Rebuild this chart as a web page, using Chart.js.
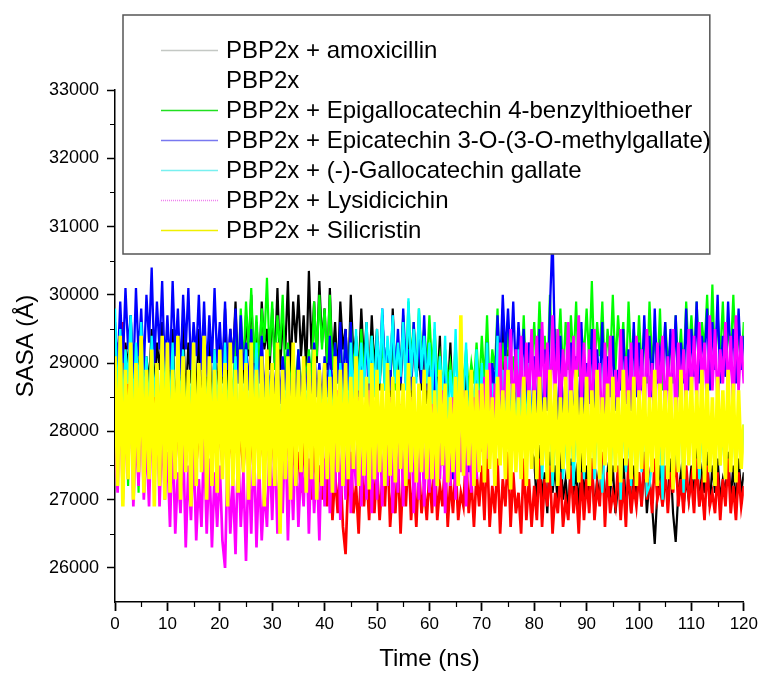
<!DOCTYPE html>
<html>
<head>
<meta charset="utf-8">
<script src="https://cdn.jsdelivr.net/npm/chart.js@4.4.0/dist/chart.umd.min.js"></script>
<style>
  html, body { margin: 0; padding: 0; background: #fff; }
  #wrap { width: 761px; height: 678px; }
</style>
</head>
<body>
<div id="wrap"><canvas id="sasa-chart" width="761" height="678"></canvas></div>
<script>
// SASA of PBP2x complexes, one value every 0.5 ns
const STEP_NS = 0.5;

const amoxicillin = [
  29400, 28700, 29500, 28600, 29300, 28900, 29700, 28500, 29200, 28800, 29600, 28400, 29100, 28700, 29500, 28600, 29300, 28900, 29600, 28500,
  29200, 28600, 29500, 28300, 29000, 28800, 29600, 28400, 29300, 28700, 29100, 28500, 29500, 28400, 28900, 28700, 29400, 28300, 29200, 28600,
  29300, 28700, 29800, 28600, 29500, 29000, 29900, 28800, 29400, 28700, 29700, 29100, 30000, 28900, 29600, 28800, 29900, 29200, 29500, 28900,
  29800, 29000, 30100, 28900, 29600, 29200, 30200, 28800, 29900, 29300, 30000, 29100, 29700, 28900, 30350, 29200, 29900, 29000, 30200, 29300,
  29800, 28900, 30100, 29000, 29600, 28800, 29900, 29200, 29500, 28700, 30000, 29100, 29400, 28800, 29800, 29000, 29600, 28700, 29700, 28900,
  29500, 28600, 29700, 28900, 29300, 28500, 29800, 28800, 29200, 28600, 29600, 28700, 29400, 28500, 29500, 28800, 29100, 28600, 29400, 28400,
  29200, 28300, 29000, 28600, 29400, 28100, 28900, 28500, 29300, 28200, 28800, 28400, 29100, 28000, 29000, 28300, 28700, 28100, 29200, 28200,
  28800, 28000, 29100, 27900, 28600, 28200, 29300, 28100, 29800, 28000, 29200, 27800, 28700, 28300, 29500, 27900, 28400, 27800, 28900, 27700,
  27600, 26900, 27800, 27000, 27400, 26800, 27700, 27100, 27500, 26900, 27800, 27000, 27300, 26800, 27600, 27100, 27400, 26900, 27700, 27000,
  27500, 26900, 27600, 26800, 27300, 27000, 27600, 26900, 27400, 27100, 27500, 26800, 27200, 27000, 27600, 26900, 27300, 26800, 27500, 27000,
  27400, 26900, 27600, 26800, 27300, 26900, 26350, 27100, 27500, 26900, 27300, 27000, 27600, 26800, 26380, 27100, 27400, 26900, 27300, 27000,
  27500, 27000, 27800, 26900, 27400, 27100, 27700, 26900, 27500, 27100, 27600, 27000, 27300, 27100, 27700, 27000, 27500, 26900, 27600, 27100,
  27400
];

const apo = [
  28800, 29300, 28200, 29600, 28000, 28700, 27900, 28600, 27800, 28500, 28000, 28700, 27800, 28400, 27900, 28600, 27700, 28500, 27800, 28400,
  28000, 27600, 28400, 27500, 28200, 27700, 28500, 27500, 28100, 27600, 28300, 27500, 28000, 27700, 28400, 27600, 28100, 27500, 28300, 27600,
  28100, 27500, 28300, 27400, 27900, 27600, 28400, 27500, 28000, 27400, 28200, 27600, 27900, 27400, 28300, 27500, 28000, 27400, 28200, 27500,
  28000, 27400, 28300, 27300, 27900, 27500, 28100, 27200, 27800, 27300, 27700, 27100, 27900, 27200, 27600, 27000, 27800, 27100, 27500, 27000,
  27600, 26900, 27800, 26700, 27400, 26800, 27500, 26600, 26200, 27300, 27700, 26800, 27200, 26500, 27600, 26900, 27400, 26700, 27800, 26800,
  27500, 26700, 27300, 26900, 27800, 26600, 27200, 26800, 27600, 26500, 27400, 26900, 27700, 26700, 27300, 26600, 27500, 26800, 27200, 26700,
  27400, 26800, 27700, 26700, 27200, 26900, 27600, 26600, 27300, 26800, 27500, 26700, 27100, 26900, 27700, 26800, 27300, 26600, 27400, 26900,
  27500, 26700, 27800, 26600, 27200, 26800, 27600, 26500, 27300, 26900, 27700, 26600, 27400, 26800, 27100, 26500, 27600, 26700, 27300, 26600,
  27200, 26700, 27600, 26600, 27300, 26900, 27500, 26500, 27100, 26800, 27400, 26600, 27000, 26700, 27500, 26800, 27200, 26500, 27400, 26700,
  27300, 26800, 27600, 26700, 27200, 26900, 27700, 26600, 27400, 26800, 27100, 26900, 27500, 26700, 27300, 26600, 27600, 26800, 27200, 26900,
  27400, 26900, 27700, 27000, 27300, 26800, 27600, 27000, 27200, 26900, 27500, 26800, 27400, 27100, 27700, 26900, 27300, 26800, 27500, 27000,
  27300, 26800, 27600, 26900, 27200, 26700, 27500, 26900, 27100, 26800, 27400, 26700, 27300, 26900, 27600, 26800, 27200, 26700, 27400, 26900,
  27200
];

const epigallocatechin = [
  29200, 28000, 29500, 27400, 28700, 27200, 28900, 27800, 28500, 27100, 28800, 27500, 28300, 27200, 28900, 27600, 28400, 27100, 28700, 27900,
  28600, 27700, 28900, 27900, 28400, 27600, 28800, 28000, 28500, 27700, 28900, 28100, 28300, 27800, 28700, 27600, 28600, 28000, 28800, 27900,
  28700, 28100, 29000, 28300, 28900, 28500, 29400, 28700, 29800, 28900, 29900, 29200, 30100, 29000, 29700, 28900, 29800, 29300, 30250, 29100,
  29900, 28900, 29700, 29200, 30000, 28800, 29300, 28600, 29100, 28700, 29200, 28600, 29000, 28800, 29200, 28700, 29900, 29100, 30000, 29200,
  29800, 29000, 30000, 28900, 29300, 28700, 29100, 28800, 29400, 28700, 29600, 28900, 29300, 28700, 29500, 28800, 29200, 28700, 29400, 28800,
  29200, 28700, 29400, 28600, 29100, 28800, 29300, 28600, 29200, 28900, 29700, 28800, 29900, 29000, 29600, 28800, 29800, 29100, 29500, 28900,
  29700, 28900, 29500, 28800, 29100, 28600, 29200, 28700, 29000, 28600, 29300, 28500, 29100, 28700, 29200, 28600, 29000, 28700, 29300, 28600,
  29400, 28700, 29700, 28600, 29200, 28900, 29800, 28500, 29300, 28800, 29600, 28700, 29100, 28600, 29500, 28800, 29700, 28600, 29300, 28900,
  29600, 28800, 29900, 29000, 29400, 28700, 30000, 28900, 29500, 29100, 29800, 28800, 29600, 28900, 29700, 29000, 29900, 28800, 29500, 29100,
  29800, 29000, 30200, 28900, 29600, 29100, 29900, 28800, 29500, 29000, 30000, 28900, 29700, 29100, 29600, 28700, 29900, 29000, 29500, 28800,
  29700, 28900, 29500, 28700, 29900, 29000, 29400, 28800, 29800, 28600, 29600, 29000, 29300, 28700, 29700, 28900, 29500, 28800, 29900, 29100,
  29700, 29000, 29900, 28900, 29600, 29200, 30000, 29000, 30150, 28900, 29700, 29100, 29900, 28800, 29600, 29100, 30000, 29000, 29500, 28900,
  29600
];

const epicatechin = [
  29600, 28900, 29900, 29000, 30100, 29200, 29700, 28800, 30100, 29100, 29800, 28900, 30000, 29300, 30400, 29000, 29900, 29200, 30200, 28900,
  29700, 28900, 30200, 29100, 29800, 28800, 30000, 29200, 30100, 28900, 29600, 29100, 30000, 28900, 29900, 28800, 29700, 29000, 30100, 29000,
  29600, 28800, 29900, 28900, 29500, 29000, 29800, 28700, 29700, 28900, 29300, 28600, 29500, 28500, 29200, 28700, 29400, 28500, 29100, 28600,
  29000, 28500, 29300, 28400, 29100, 28600, 29200, 28300, 28900, 28500, 29200, 28400, 29000, 28600, 29100, 28300, 29300, 28500, 29000, 28400,
  29100, 28500, 29400, 28400, 29300, 28700, 29600, 28500, 29500, 28600, 29600, 28400, 29300, 28500, 29000, 28700, 29400, 28300, 29200, 28600,
  29400, 28700, 29800, 28900, 29300, 28600, 29700, 28800, 29500, 28700, 29800, 28900, 29200, 28600, 29600, 28800, 29400, 28700, 29700, 28600,
  28900, 28000, 29200, 27700, 28600, 27500, 28800, 27900, 28400, 27300, 28700, 27800, 29000, 27500, 28500, 27400, 28800, 27700, 28300, 27600,
  28800, 27900, 29300, 27600, 29000, 28600, 29700, 28900, 30000, 29100, 29800, 29000, 29900, 28800, 29600, 28900, 29500, 28200, 29300, 27800,
  29100, 28000, 29500, 27800, 29200, 28300, 29800, 30900, 29000, 27900, 29400, 28100, 28800, 27600, 29300, 27800, 29100, 28000, 29600, 28200,
  29000, 28400, 29500, 28300, 29200, 28600, 29600, 28200, 29100, 28500, 29400, 28300, 28900, 28600, 29500, 28400, 29200, 28300, 29600, 28500,
  29300, 28600, 29700, 28800, 29400, 28500, 29800, 28700, 29200, 28900, 29600, 28600, 29500, 28800, 29700, 28500, 29300, 28700, 29800, 28600,
  29500, 28800, 29900, 28700, 29400, 29000, 29800, 28600, 29600, 28900, 30000, 28700, 29400, 28800, 29900, 29000, 29500, 28700, 29800, 28900,
  29400
];

const gallocatechin = [
  29800, 28400, 29500, 28300, 29200, 28700, 29700, 28200, 29300, 28600, 29600, 28400, 29100, 28300, 29400, 28500, 29000, 28200, 29300, 28600,
  29100, 28300, 29300, 28100, 28900, 28500, 29200, 28000, 28800, 28400, 29300, 28200, 28700, 28000, 29100, 28300, 28900, 28100, 29200, 28400,
  28900, 28100, 29300, 28000, 28700, 28400, 29100, 27900, 28800, 28200, 29200, 28000, 28600, 28300, 29300, 28100, 28900, 28000, 29100, 28400,
  28700, 28100, 28900, 28000, 28600, 28300, 29000, 28000, 28500, 28200, 28800, 27900, 28600, 28300, 28900, 28100, 28500, 28000, 28800, 28200,
  28600, 28000, 28900, 28200, 28700, 28100, 29000, 28300, 28800, 28100, 29300, 28400, 29500, 28600, 29300, 28500, 29600, 28700, 29400, 28500,
  29500, 28700, 29800, 28600, 29400, 28900, 29700, 28700, 29300, 28800, 29600, 28600, 29950, 28800, 29500, 28700, 29800, 28900, 29400, 28700,
  29300, 28400, 29600, 28200, 29100, 28500, 29400, 28000, 28900, 28300, 29500, 28100, 29000, 28400, 29300, 28000, 28800, 28300, 29200, 28100,
  29000, 28100, 29300, 27900, 28700, 28200, 29400, 27800, 28900, 28000, 29100, 27900, 28600, 28100, 29200, 27800, 28800, 28000, 29000, 27900,
  28300, 27500, 28500, 27300, 28100, 27600, 28400, 27200, 28000, 27500, 28500, 27300, 27900, 27600, 28300, 27200, 28200, 27400, 28400, 27300,
  28400, 27500, 28600, 27300, 28200, 27600, 27100, 27800, 28500, 27200, 28100, 27500, 28600, 27000, 28300, 27400, 28000, 27200, 28400, 27300,
  28200, 27400, 28500, 27100, 27200, 27600, 28700, 27300, 28100, 27000, 28400, 27500, 28600, 27200, 28000, 27400, 28500, 27100, 28300, 27600,
  28300, 27500, 28500, 27300, 28100, 27600, 28400, 27400, 28200, 27300, 28500, 27500, 28000, 27400, 28400, 27600, 28200, 27300, 28300, 27500,
  28100
];

const lysidicichin = [
  27800, 27100, 28600, 27000, 28200, 27300, 28900, 26900, 28000, 27200, 28500, 27000, 27900, 26900, 28300, 27100, 28700, 26900, 28100, 27000,
  27700, 26600, 28000, 26500, 27400, 26800, 27900, 26300, 27500, 26700, 27800, 26400, 27300, 26600, 27900, 26500, 27600, 26300, 27400, 26600,
  27500, 26400, 26000, 27700, 26500, 27300, 26200, 27800, 26600, 27400, 26100, 27600, 26500, 27900, 26300, 27500, 26400, 27200, 26600, 27800,
  26700, 27900, 26500, 27600, 26800, 28200, 26400, 27700, 26700, 28000, 26600, 27500, 26900, 28100, 26500, 27800, 26800, 27600, 26400, 28000,
  26900, 28300, 26800, 27900, 27100, 28600, 26700, 28000, 27000, 28400, 26800, 27800, 27200, 28500, 26900, 28100, 27000, 28600, 26800, 28200,
  27000, 28300, 26900, 28000, 27200, 28500, 26800, 27900, 27100, 28400, 26900, 28100, 27300, 28500, 26800, 28000, 27000, 28300, 26900, 28200,
  27100, 28400, 26900, 28000, 27300, 28600, 26800, 28100, 27200, 28500, 27000, 28200, 27400, 28600, 26900, 28300, 27100, 28500, 27300, 28600,
  27700, 28800, 27600, 29000, 27900, 28700, 28000, 29300, 27800, 29100, 28200, 29500, 28100, 29200, 28300, 29400, 28100, 29300, 28400, 29500,
  28300, 29400, 28200, 29600, 28500, 29300, 28100, 29700, 28400, 29500, 28300, 29200, 28600, 29600, 28200, 29400, 28500, 29700, 28300, 29300,
  28400, 29200, 28000, 29500, 28300, 29000, 27800, 29300, 28200, 29400, 28100, 28900, 28300, 29500, 27900, 29100, 28200, 29300, 28000, 29400,
  28300, 29200, 28100, 29500, 28400, 29000, 28000, 29300, 28500, 29400, 28200, 29100, 28400, 29500, 28100, 29300, 28500, 29200, 28300, 29500,
  28500, 29400, 28400, 29600, 28700, 29300, 28300, 29700, 28600, 29500, 28400, 29200, 28700, 29600, 28500, 29400, 28300, 29700, 28600, 29400,
  28700
];

const silicristin = [
  29100, 27200, 29400, 26900, 28900, 27300, 29300, 27000, 29000, 27400, 29400, 27100, 28900, 27300, 29200, 26900, 29000, 27200, 29400, 27000,
  29300, 27100, 28900, 27300, 29400, 27000, 29100, 27400, 28900, 26900, 29300, 27200, 29000, 27400, 29400, 27000, 29100, 27200, 28900, 27100,
  29200, 27300, 29000, 26900, 29300, 27200, 28900, 27100, 29200, 27400, 29000, 27000, 29300, 27200, 28900, 27300, 29100, 26900, 29200, 27200,
  29000, 27200, 29300, 26500, 28900, 27300, 29100, 27000, 29300, 27200, 28900, 27400, 29100, 27100, 29000, 27300, 29200, 27000, 28900, 27200,
  29000, 27300, 28800, 27100, 29100, 27400, 28900, 27200, 29000, 27300, 28800, 27450, 29100, 27200, 28900, 27350, 28800, 27150, 29000, 27300,
  28900, 27400, 28700, 27200, 29000, 27350, 28800, 27250, 28900, 27450, 28700, 27200, 29000, 27400, 28800, 27250, 28700, 27400, 28900, 27300,
  28800, 27300, 28600, 27200, 28900, 27500, 28700, 27250, 28500, 27400, 28800, 27200, 29700, 27350, 28600, 27500, 28900, 27200, 28700, 27400,
  28700, 27250, 28900, 27450, 28500, 27200, 28800, 27500, 28600, 27300, 28900, 27150, 28700, 27400, 28500, 27300, 28800, 27200, 28600, 27450,
  28600, 27300, 28800, 27500, 28500, 27250, 28900, 27400, 28700, 27200, 28500, 27450, 28800, 27300, 28600, 27550, 28900, 27250, 28500, 27400,
  28800, 27200, 28600, 27450, 28900, 27300, 28500, 27500, 28700, 27200, 28800, 27400, 28500, 27250, 28900, 27500, 28600, 27300, 28800, 27200,
  28600, 27450, 28800, 27250, 28500, 27400, 28900, 27200, 28700, 27500, 28600, 27300, 28800, 27150, 28500, 27400, 28900, 27300, 28600, 27500,
  28800, 27300, 28600, 27450, 28900, 27250, 28700, 27400, 28500, 27200, 28800, 27500, 28600, 27300, 28900, 27400, 28700, 27250, 28600, 27450,
  28100
];

const seriesNames = [
  'PBP2x + amoxicillin',
  'PBP2x',
  'PBP2x + Epigallocatechin 4-benzylthioether',
  'PBP2x + Epicatechin 3-O-(3-O-methylgallate)',
  'PBP2x + (-)-Gallocatechin gallate',
  'PBP2x + Lysidicichin',
  'PBP2x + Silicristin'
];
const seriesValues = [amoxicillin, apo, epigallocatechin, epicatechin, gallocatechin, lysidicichin, silicristin];
const lineColors = ['#000000', '#ff0000', '#00ff00', '#0000ff', '#00ffff', '#ff00ff', '#ffff00'];
// yellow is the top trace and hides most of the others, so it gets a thicker stroke
const lineWidths = [2.2, 2.7, 2.2, 2.3, 2.3, 2.7, 3.6];
// the legend swatches in the figure are washed out (and PBP2x has none)
const legendColors = ['#c4c8c4', null, '#20e020', '#7878f0', '#78f0f0', '#f080f0', '#f0f000'];

const xTicks = [0, 10, 20, 30, 40, 50, 60, 70, 80, 90, 100, 110, 120];
const xMinor = [5, 15, 25, 35, 45, 55, 65, 75, 85, 95, 105, 115];
const yTicks = [26000, 27000, 28000, 29000, 30000, 31000, 32000, 33000];
const yMinor = [26500, 27500, 28500, 29500, 30500, 31500, 32500];

const timeNs = amoxicillin.map((v, i) => i * STEP_NS);

const FONT = "'Liberation Sans', Arial, Helvetica, sans-serif";

// minor tick marks, the library only draws one length
const minorTicks = {
  id: 'minorTicks',
  afterDraw(chart) {
    const ctx = chart.ctx;
    const area = chart.chartArea;
    const xs = chart.scales.x, ys = chart.scales.y;
    ctx.save();
    ctx.strokeStyle = '#000';
    ctx.lineWidth = 1.2;
    ctx.beginPath();
    xMinor.forEach(v => {
      const px = Math.round(xs.getPixelForValue(v)) + 0.5;
      ctx.moveTo(px, area.bottom);
      ctx.lineTo(px, area.bottom + 5);
    });
    yMinor.forEach(v => {
      const py = Math.round(ys.getPixelForValue(v)) + 0.5;
      ctx.moveTo(area.left - 5, py);
      ctx.lineTo(area.left, py);
    });
    ctx.stroke();
    ctx.restore();
  }
};

// boxed legend sitting inside the plot, like the Origin figure
const boxLegend = {
  id: 'boxLegend',
  afterDraw(chart) {
    const ctx = chart.ctx;
    const area = chart.chartArea;
    const left = area.left + 8, right = area.right - 34;
    const top = area.top - 75, bottom = area.top + 164;
    ctx.save();
    ctx.fillStyle = '#fff';
    ctx.fillRect(left, top, right - left, bottom - top);
    ctx.strokeStyle = '#555';
    ctx.lineWidth = 1.5;
    ctx.strokeRect(left, top, right - left, bottom - top);
    ctx.font = '24px ' + FONT;
    ctx.textBaseline = 'middle';
    ctx.fillStyle = '#000';
    seriesNames.forEach((name, i) => {
      const y = top + 35 + i * 30;
      if (legendColors[i]) {
        ctx.strokeStyle = legendColors[i];
        ctx.lineWidth = 1.5;
        ctx.setLineDash(i === 5 ? [1, 1] : []);
        ctx.beginPath();
        ctx.moveTo(left + 38, y + 0.5);
        ctx.lineTo(left + 95, y + 0.5);
        ctx.stroke();
      }
      ctx.fillText(name, left + 103, y + 1);
    });
    ctx.restore();
  }
};

new Chart(document.getElementById('sasa-chart').getContext('2d'), {
  type: 'line',
  data: {
    datasets: seriesValues.map((vals, i) => ({
      label: seriesNames[i],
      data: vals.map((v, j) => ({ x: timeNs[j], y: v })),
      borderColor: lineColors[i],
      backgroundColor: lineColors[i],
      borderWidth: lineWidths[i],
      pointRadius: 0,
      tension: 0,
      fill: false,
      order: seriesValues.length - i   // yellow ends up on top
    }))
  },
  options: {
    responsive: false,
    animation: false,
    events: [],
    layout: { padding: { left: 12, top: 90, right: 16, bottom: 4 } },
    plugins: { legend: { display: false }, tooltip: { enabled: false } },
    scales: {
      x: {
        type: 'linear',
        min: 0,
        max: 120,
        afterBuildTicks: s => { s.ticks = xTicks.map(v => ({ value: v })); },
        afterFit: s => { s.height = 72; },
        ticks: { color: '#000', font: { family: FONT, size: 17 }, padding: 3, maxRotation: 0, autoSkip: false },
        grid: { drawOnChartArea: false, drawTicks: true, tickLength: 9, tickColor: '#000', tickWidth: 1.8 },
        border: { display: true, color: '#000', width: 1.5 },
        title: { display: true, text: 'Time (ns)', color: '#000', font: { family: FONT, size: 24 }, padding: 0 }
      },
      y: {
        min: 25500,
        max: 33000,
        afterBuildTicks: s => { s.ticks = yTicks.map(v => ({ value: v })); },
        afterFit: s => { s.width = 103; },
        ticks: { color: '#000', font: { family: FONT, size: 18 }, padding: 8, autoSkip: false, callback: v => String(v) },
        grid: { drawOnChartArea: false, drawTicks: true, tickLength: 8, tickColor: '#000', tickWidth: 1.5 },
        border: { display: true, color: '#000', width: 1.5 },
        title: { display: true, text: 'SASA (Å)', color: '#000', font: { family: FONT, size: 24 }, padding: 0 }
      }
    }
  },
  plugins: [minorTicks, boxLegend]
});
</script>
</body>
</html>
